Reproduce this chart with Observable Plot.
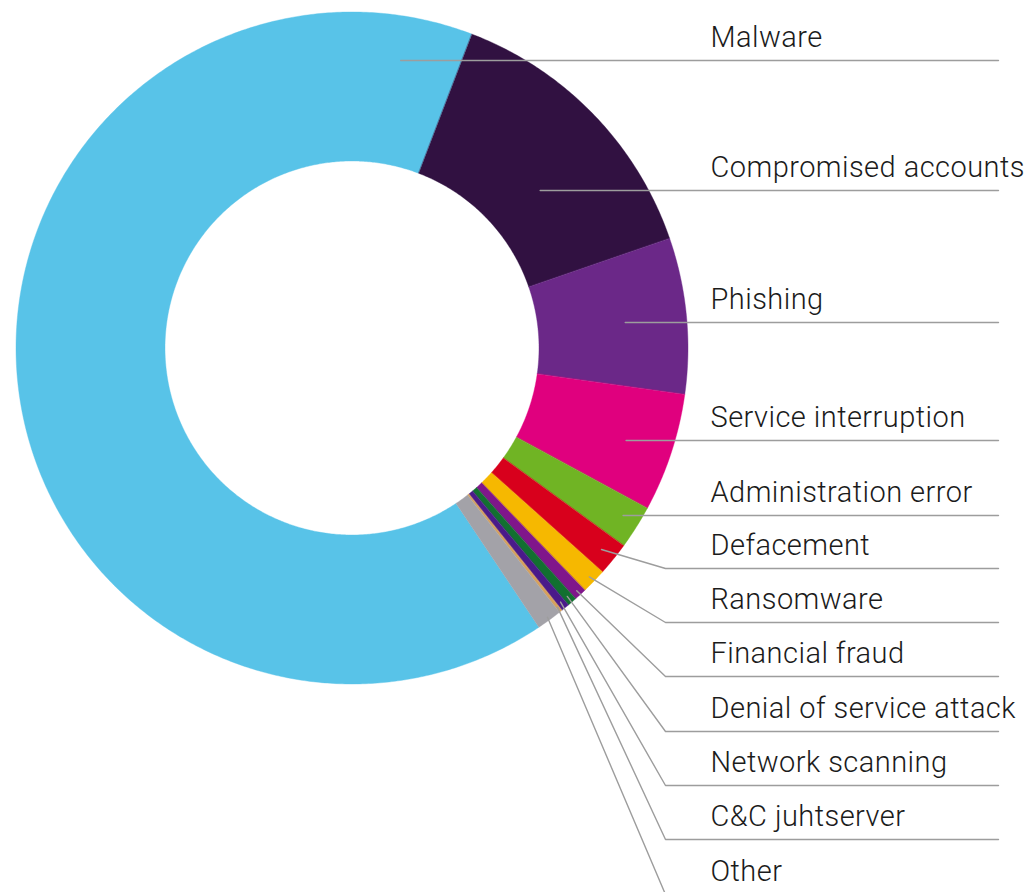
<!DOCTYPE html>
<html>
<head>
<meta charset="utf-8">
<script src="https://cdn.jsdelivr.net/npm/d3@7"></script>
<script src="https://cdn.jsdelivr.net/npm/@observablehq/plot@0.6"></script>
<style>
  html, body { margin: 0; padding: 0; background: #fff; }
  #chart svg { display: block; }
  #chart text { letter-spacing: 0.45px; }
</style>
</head>
<body>
<div id="chart"></div>
<script>
// ---- data ----
const categories = [
  "Malware", "Compromised accounts", "Phishing", "Service interruption",
  "Administration error", "Defacement", "Ransomware", "Financial fraud",
  "Denial of service attack", "Network scanning", "C&C juhtserver", "Other"
];
const shares = [65.2, 13.9, 7.5, 5.7, 2.1, 1.6, 1.2, 0.6, 0.45, 0.4, 0.15, 1.2];
const colors = [
  "#58c3e8", "#311141", "#6b2888", "#e0007e",
  "#70b424", "#d8001c", "#f6b800", "#80168b",
  "#127030", "#4a1a8a", "#d9a15a", "#a3a2a8"
];

// ---- layout ----
const W = 1031, H = 892;
const cx = 352, cy = 348, R = 336, r = 187;
const startDeg = 146.2;
const labelX = 710, lineEndX = 998, elbowX = 665;
const labelLineY = [60, 190, 322, 440, 515, 568, 622, 676, 731, 785, 839, 894];
const anchorR = [292, 245, 274, 288, 320, 320, 329, 330, 328, 328, 330, 332];
const anchorOverrideDeg = {0: 9.5, 1: 50};

const rad = d => d * Math.PI / 180;
const total = d3.sum(shares);
let acc = startDeg;
const slices = categories.map((name, i) => {
  const a0 = acc, a1 = acc + shares[i] / total * 360;
  acc = a1;
  return {name, a0, a1, mid: (a0 + a1) / 2};
});

// annular sector outlines sampled along the angle
const arcPts = [];
for (const s of slices) {
  const n = Math.max(2, Math.ceil((s.a1 - s.a0) / 0.5));
  for (let k = 0; k <= n; k++) {
    const a = rad(s.a0 + (s.a1 - s.a0) * k / n);
    arcPts.push({
      name: s.name,
      x1: cx + r * Math.sin(a), y1: cy - r * Math.cos(a),
      x2: cx + R * Math.sin(a), y2: cy - R * Math.cos(a)
    });
  }
}

// leader lines
const leaders = [];
slices.forEach((s, i) => {
  const deg = anchorOverrideDeg[i] ?? s.mid;
  const ax = cx + anchorR[i] * Math.sin(rad(deg));
  const ay = cy - anchorR[i] * Math.cos(rad(deg));
  const ly = labelLineY[i];
  if (i <= 4) {
    leaders.push({name: s.name, x: ax, y: ly});
  } else {
    leaders.push({name: s.name, x: ax, y: ay});
    leaders.push({name: s.name, x: elbowX, y: ly});
  }
  leaders.push({name: s.name, x: lineEndX, y: ly});
});

const labels = slices.map((s, i) => ({name: s.name, y: labelLineY[i] - 22.5}));

const plot = Plot.plot({
  width: W,
  height: H,
  margin: 0,
  x: {domain: [0, W], range: [0, W], axis: null},
  y: {domain: [0, H], range: [0, H], axis: null},
  color: {domain: categories, range: colors},
  style: {background: "#fff"},
  marks: [
    Plot.area(arcPts, {
      x1: "x1", y1: "y1", x2: "x2", y2: "y2",
      z: "name", fill: "name", stroke: "name", strokeWidth: 0.4,
      curve: "linear"
    }),
    Plot.line(leaders, {
      x: "x", y: "y", z: "name",
      stroke: "#9d9d9d", strokeWidth: 1.4, curve: "linear"
    }),
    Plot.text(labels, {
      x: labelX, y: "y", text: "name",
      textAnchor: "start", fontSize: 29, fontWeight: 300,
      fontFamily: "Roboto", fill: "#1b1b1b"
    })
  ]
});
document.getElementById("chart").appendChild(plot);
</script>
</body>
</html>
